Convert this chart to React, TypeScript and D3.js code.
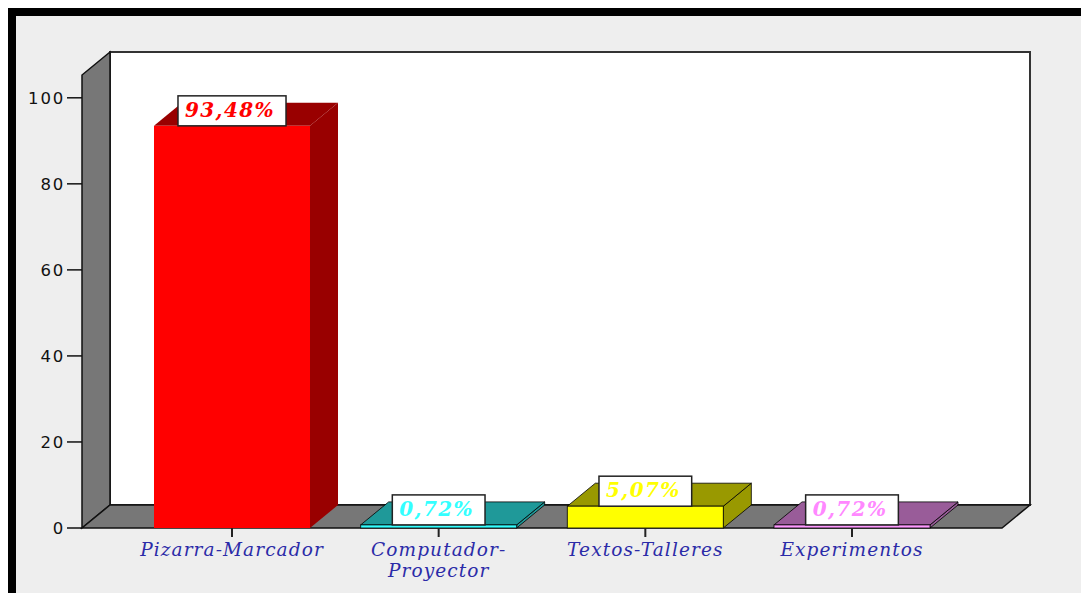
import React, { useEffect, useRef } from 'react';
import * as d3 from 'd3';

// data
const categories = ['Pizarra-Marcador', 'Computador-Proyector', 'Textos-Talleres', 'Experimentos'];
const categoryLines = [['Pizarra-Marcador'], ['Computador-', 'Proyector'], ['Textos-Talleres'], ['Experimentos']];
const percentages = [93.48, 0.72, 5.07, 0.72];
const valueLabels = ['93,48%', '0,72%', '5,07%', '0,72%'];
const yTicks = [0, 20, 40, 60, 80, 100];

// palette
const frontColors = ['#ff0000', '#33ffff', '#ffff00', '#ff99ff'];
const labelColors = ['#ff0000', '#33ffff', '#ffff00', '#ff88ff'];

const W = 1081,
  H = 593;
const depthX = 28,
  depthY = -23;
const barWidth = 156;

const shade = (c: string) => {
  const rgb = d3.rgb(c);
  return d3.rgb(rgb.r * 0.6, rgb.g * 0.6, rgb.b * 0.6).formatHex();
};

const drawChart = (el: SVGSVGElement) => {
  const svg = d3.select(el);
  svg.selectAll('*').remove();

  // page and frame
  svg.append('rect').attr('width', W).attr('height', H).attr('fill', '#fff');
  svg
    .append('rect')
    .attr('x', 12)
    .attr('y', 12)
    .attr('width', W)
    .attr('height', H)
    .attr('fill', '#eeeeee')
    .attr('stroke', '#000')
    .attr('stroke-width', 8);

  const y = d3.scaleLinear().domain([0, 105.3]).range([528, 75]);
  const x = d3.scalePoint<string>().domain(categories).range([232, 852]);

  const left = 82,
    right = 1002,
    y0 = y(0),
    yTop = y(105.3);

  // back wall
  svg
    .append('rect')
    .attr('x', left + depthX)
    .attr('y', yTop + depthY)
    .attr('width', right - left)
    .attr('height', y0 - yTop)
    .attr('fill', '#fff')
    .attr('stroke', '#333')
    .attr('stroke-width', 2);

  // left wall
  svg
    .append('polygon')
    .attr(
      'points',
      [
        [left, y0],
        [left, yTop],
        [left + depthX, yTop + depthY],
        [left + depthX, y0 + depthY]
      ].join(' ')
    )
    .attr('fill', '#777')
    .attr('stroke', '#111')
    .attr('stroke-width', 1.5);

  // floor
  svg
    .append('polygon')
    .attr(
      'points',
      [
        [left, y0],
        [right, y0],
        [right + depthX, y0 + depthY],
        [left + depthX, y0 + depthY]
      ].join(' ')
    )
    .attr('fill', '#777')
    .attr('stroke', '#111')
    .attr('stroke-width', 1.5);

  // y axis ticks
  const yAxis = svg.append('g');
  yTicks.forEach(t => {
    yAxis
      .append('line')
      .attr('x1', left - 15)
      .attr('x2', left)
      .attr('y1', y(t))
      .attr('y2', y(t))
      .attr('stroke', '#111')
      .attr('stroke-width', 1.5);
    yAxis
      .append('text')
      .attr('x', left - 17)
      .attr('y', y(t))
      .attr('dy', '0.36em')
      .attr('text-anchor', 'end')
      .attr('font-family', 'DejaVu Sans, sans-serif')
      .attr('font-size', 16.5)
      .attr('letter-spacing', 1.8)
      .attr('fill', '#111')
      .text(t);
  });

  // bars
  categories.forEach((c, i) => {
    const cx = x(c) as number;
    const x0 = cx - barWidth / 2,
      x1 = cx + barWidth / 2;
    const yv = y(percentages[i]);
    const front = frontColors[i];
    const dark = shade(front);
    const g = svg.append('g');
    const edge = i === 0 ? 'none' : 'rgba(0,0,0,0.8)';

    g.append('polygon')
      .attr(
        'points',
        [
          [x1, yv],
          [x1 + depthX, yv + depthY],
          [x1 + depthX, y0 + depthY],
          [x1, y0]
        ].join(' ')
      )
      .attr('fill', dark)
      .attr('stroke', edge);
    g.append('polygon')
      .attr(
        'points',
        [
          [x0, yv],
          [x1, yv],
          [x1 + depthX, yv + depthY],
          [x0 + depthX, yv + depthY]
        ].join(' ')
      )
      .attr('fill', dark)
      .attr('stroke', edge);
    g.append('rect')
      .attr('x', x0)
      .attr('y', yv)
      .attr('width', barWidth)
      .attr('height', Math.max(y0 - yv, 1))
      .attr('fill', front)
      .attr('stroke', edge);
  });

  // value label boxes
  categories.forEach((c, i) => {
    const cx = x(c) as number;
    const yv = y(percentages[i]);
    const g = svg.append('g');
    const rect = g.append('rect');
    const txt = g
      .append('text')
      .attr('x', cx - 2)
      .attr('y', yv - 9)
      .attr('text-anchor', 'middle')
      .attr('font-family', 'DejaVu Serif, serif')
      .attr('font-style', 'italic')
      .attr('font-weight', 'bold')
      .attr('font-size', 20)
      .attr('letter-spacing', 1.4)
      .attr('fill', labelColors[i])
      .text(valueLabels[i]);
    const w = (txt.node() as SVGTextElement).getComputedTextLength() + 18;
    rect
      .attr('x', cx - w / 2)
      .attr('y', yv - 30)
      .attr('width', w)
      .attr('height', 30)
      .attr('fill', '#fff')
      .attr('stroke', '#222')
      .attr('stroke-width', 1.5);
  });

  // category ticks and labels
  categories.forEach((c, i) => {
    const cx = x(c) as number;
    svg
      .append('line')
      .attr('x1', cx)
      .attr('x2', cx)
      .attr('y1', y0)
      .attr('y2', y0 + 9)
      .attr('stroke', '#222')
      .attr('stroke-width', 2);
    categoryLines[i].forEach((line, j) => {
      svg
        .append('text')
        .attr('x', cx)
        .attr('y', 556 + j * 21)
        .attr('text-anchor', 'middle')
        .attr('font-family', 'DejaVu Serif, serif')
        .attr('font-style', 'italic')
        .attr('font-size', 18.5)
        .attr('letter-spacing', 1.1)
        .attr('fill', '#2b2ba8')
        .text(line);
    });
  });
};

const App = () => {
  const ref = useRef<SVGSVGElement>(null);
  useEffect(() => {
    if (ref.current) drawChart(ref.current);
  });
  return (
    <svg
      ref={ref}
      width={W}
      height={H}
      style={{ position: 'absolute', left: 0, top: 0, display: 'block' }}
    />
  );
};

export default App;
